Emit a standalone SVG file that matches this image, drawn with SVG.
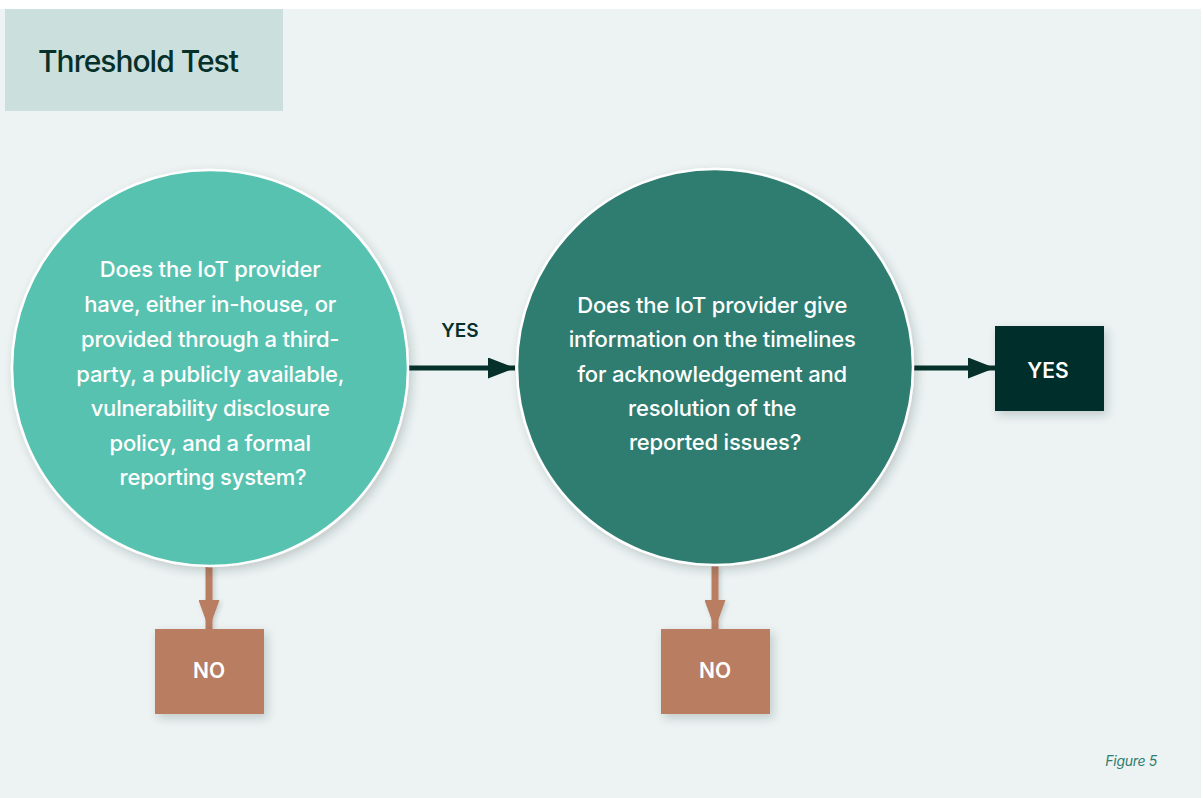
<svg xmlns="http://www.w3.org/2000/svg" width="1203" height="798" viewBox="0 0 1203 798">
  <defs>
    <style>
      .q { font-family: Inter, "Liberation Sans", sans-serif; font-size: 22px; font-weight: 500; fill: #ffffff; text-anchor: middle; letter-spacing: -0.2px; }
      .lbl { font-family: Inter, "Liberation Sans", sans-serif; font-weight: 600; text-anchor: middle; }
      .title { font-family: Inter, "Liberation Sans", sans-serif; font-size: 30px; font-weight: 500; fill: #06302a; letter-spacing: -1px; }
      .fig { font-family: Inter, "Liberation Sans", sans-serif; font-size: 14px; font-style: italic; fill: #2e7d70; text-anchor: end; letter-spacing: -0.3px; }
    </style>
    <filter id="sh" x="-20%" y="-20%" width="140%" height="140%">
      <feDropShadow dx="3" dy="4" stdDeviation="5" flood-color="#1b3b36" flood-opacity="0.22"/>
    </filter>
    <filter id="shs" filterUnits="userSpaceOnUse" x="0" y="0" width="1203" height="798">
      <feDropShadow dx="2" dy="2" stdDeviation="2" flood-color="#1b3b36" flood-opacity="0.2"/>
    </filter>
    <marker id="ahDark" viewBox="0 0 27 21" refX="27" refY="10.5" markerWidth="27" markerHeight="21" markerUnits="userSpaceOnUse" orient="auto">
      <path d="M0,0 L27,10.5 L0,21 Z" fill="#06302a"/>
    </marker>
    <marker id="ahNo" viewBox="0 0 29 21" refX="29" refY="10.5" markerWidth="29" markerHeight="21" markerUnits="userSpaceOnUse" orient="auto">
      <path d="M0,0 L29,10.5 L0,21 Z" fill="#b97d62"/>
    </marker>
  </defs>

  <rect x="0" y="0" width="1203" height="798" fill="#ffffff"/>
  <rect x="0" y="9" width="1201" height="789" fill="#edf3f3"/>

  <g id="title">
    <rect x="5" y="9" width="278" height="102" fill="#cbdfdd"/>
    <text class="title" x="38" y="72">Threshold Test</text>
  </g>

  <g id="connectors">
    <line x1="209" y1="566" x2="209" y2="629" stroke="#b97d62" stroke-width="7" marker-end="url(#ahNo)" filter="url(#shs)"/>
    <line x1="715" y1="566" x2="715" y2="629" stroke="#b97d62" stroke-width="7" marker-end="url(#ahNo)" filter="url(#shs)"/>
    <line x1="408" y1="368" x2="515" y2="368" stroke="#06302a" stroke-width="5" marker-end="url(#ahDark)"/>
    <text class="lbl" x="460" y="337" font-size="19" fill="#06302a">YES</text>
    <line x1="913" y1="368" x2="995" y2="368" stroke="#06302a" stroke-width="5" marker-end="url(#ahDark)"/>
  </g>

  <g id="q1">
    <circle cx="210" cy="368" r="198" fill="#59c2b0" stroke="#ffffff" stroke-width="2.5" filter="url(#sh)"/>
    <text class="q">
      <tspan x="213" y="277">Does the IoT provider</tspan>
      <tspan x="213" y="312">have, either in-house, or</tspan>
      <tspan x="213" y="347">provided through a third-</tspan>
      <tspan x="213" y="382">party, a publicly available,</tspan>
      <tspan x="213" y="416">vulnerability disclosure</tspan>
      <tspan x="213" y="451">policy, and a formal</tspan>
      <tspan x="213" y="485">reporting system?</tspan>
    </text>
  </g>

  <g id="q2">
    <circle cx="715" cy="367" r="198" fill="#2e7d70" stroke="#ffffff" stroke-width="2.5" filter="url(#sh)"/>
    <text class="q">
      <tspan x="715" y="313">Does the IoT provider give</tspan>
      <tspan x="715" y="347">information on the timelines</tspan>
      <tspan x="715" y="382">for acknowledgement and</tspan>
      <tspan x="715" y="416">resolution of the</tspan>
      <tspan x="715" y="450">reported issues?</tspan>
    </text>
  </g>

  <g id="yes">
    <rect x="995" y="326" width="109" height="85" fill="#032d2a" filter="url(#sh)"/>
    <text class="lbl" x="1048" y="378" font-size="21" fill="#ffffff">YES</text>
  </g>

  <g id="no1">
    <rect x="155" y="629" width="109" height="85" fill="#b97d62" filter="url(#sh)"/>
    <text class="lbl" x="209" y="678" font-size="21" fill="#ffffff">NO</text>
  </g>

  <g id="no2">
    <rect x="661" y="629" width="109" height="85" fill="#b97d62" filter="url(#sh)"/>
    <text class="lbl" x="715" y="678" font-size="21" fill="#ffffff">NO</text>
  </g>

  <g id="caption">
    <text class="fig" x="1157" y="766">Figure 5</text>
  </g>
</svg>
